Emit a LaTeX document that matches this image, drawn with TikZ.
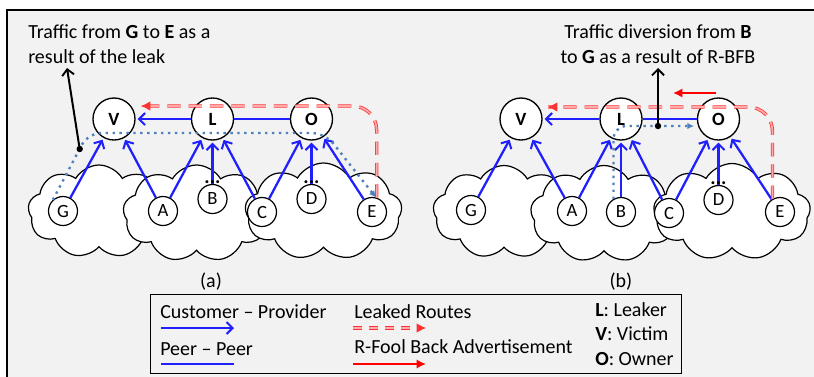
\documentclass[tikz,border=0pt]{standalone}
\usepackage{fontspec}
\setmainfont{Carlito}
\usetikzlibrary{arrows.meta,shapes.symbols,calc}
\definecolor{bgc}{RGB}{242,242,242}
\definecolor{edgeblue}{RGB}{32,32,255}
\definecolor{dotblue}{RGB}{79,129,189}
\definecolor{leakred}{RGB}{255,50,50}
\definecolor{leakpink}{RGB}{255,170,170}
\begin{document}
\begin{tikzpicture}[x=0.75pt,y=-0.75pt,
  font=\fontsize{15}{18.75}\selectfont,
  bignode/.style={circle, draw, line width=1pt, fill=white, minimum size=31.5pt, inner sep=0pt, font=\fontsize{14}{14}\selectfont\bfseries},
  smallnode/.style={circle, draw, line width=0.9pt, fill=white, minimum size=21.75pt, inner sep=0pt, font=\fontsize{14}{14}\selectfont},
  cloudshape/.style={cloud, cloud puffs=9, cloud puff arc=120, cloud ignores aspect, draw, line width=0.9pt, fill=white, inner sep=0pt},
  cp/.style={draw=edgeblue, line width=1.7pt, -{Straight Barb[length=4.5pt,width=9pt,line width=1.5pt]}, shorten >=1.5pt},
  pp/.style={draw=edgeblue, line width=1.7pt},
  leak/.style={draw=leakred, line width=0.6pt, double=leakpink, double distance=1.3pt, dash pattern=on 10pt off 6pt, rounded corners=18pt},
  leaktip/.style={draw=leakred, fill=leakred, line width=0.6pt, -{Latex[length=7pt,width=7pt]}},
  rfool/.style={draw=red, line width=1.5pt, -{Latex[length=7pt,width=7pt]}},
  traffic/.style={draw=dotblue, line width=1.8pt, dash pattern=on 1.8pt off 3.4pt, rounded corners=10pt},
  traffictip/.style={-{Latex[length=5pt,width=5pt]}},
  annot/.style={draw=black, line width=1.5pt, -{Straight Barb[length=4.5pt,width=9pt,line width=1.4pt]}},
  dotsmark/.style={inner sep=0pt, font=\fontsize{15}{15}\selectfont\bfseries},
  caption/.style={inner sep=0pt, anchor=base}]

\useasboundingbox (0,0) rectangle (814,376);
\clip (0,0) rectangle (814,376);
\fill[white] (0,0) rectangle (814,376);
\draw[fill=bgc, line width=1.2pt] (7,10) rectangle (840,400);

% ---------------- panel (a) ----------------
\node[cloudshape, minimum width=106.5pt, minimum height=69.75pt] (ac1) at (99,211.5) {};
\node[cloudshape, minimum width=110.25pt, minimum height=72.75pt] (ac2) at (196.5,213.5) {};
\node[cloudshape, minimum width=117.75pt, minimum height=72.75pt] (ac3) at (323.5,211.5) {};

\node[bignode] (aV) at (114,119) {V};
\node[bignode] (aL) at (212.5,119) {L};
\node[bignode] (aO) at (311.5,119) {O};
\node[smallnode] (aG) at (63,211) {G};
\node[smallnode] (aA) at (163,211) {A};
\node[smallnode] (aB) at (212.5,199) {B};
\node[smallnode] (aC) at (262,212) {C};
\node[smallnode] (aD) at (311.5,199) {D};
\node[smallnode] (aE) at (372,212) {E};

\draw[cp] (aG) -- (aV);
\draw[cp] (aA) -- (aV);
\draw[cp] (aA) -- (aL);
\draw[cp] (aB) -- (aL);
\draw[cp] (aC) -- (aL);
\draw[cp] (aC) -- (aO);
\draw[cp] (aD) -- (aO);
\draw[cp] (aE) -- (aO);
\draw[cp] (aL) -- (aV);
\draw[pp] (aL) -- (aO);
\node[dotsmark, anchor=base] (aBd) at (212.5,183) {...};
\node[dotsmark, anchor=base] (aDd) at (311.5,183) {...};

\coordinate (aRt) at (141,106);
\draw[leak] (aE.72) |- (aRt);
\draw[leaktip] ($(aRt)+(1,0)$) -- (aRt);

\coordinate (aT1) at (88,133);
\coordinate (aT2) at (325,133);
\draw[traffic, traffictip] (aG.132) -- (aT1) -- (aT2) -- (aE.75);

\node[anchor=north west, align=left, inner sep=0pt] (aTxt) at (28,24)
  {Traffic from \textbf{G} to \textbf{E} as a\\result of the leak};
\coordinate (aDot) at (79.7,149);
\coordinate (aTip) at (67,68);
\fill (aDot) circle[radius=2.4pt];
\draw[annot] (aDot) -- (aTip);

\node[caption] (lblA) at (211,287) {(a)};

% ---------------- panel (b) ----------------
\node[cloudshape, minimum width=106.5pt, minimum height=69.75pt] (bc1) at (504,212) {};
\node[cloudshape, minimum width=110.25pt, minimum height=72.75pt] (bc2) at (604,214) {};
\node[cloudshape, minimum width=117.75pt, minimum height=72.75pt] (bc3) at (732,212) {};

\node[bignode] (bV) at (521,119) {V};
\node[bignode] (bL) at (621,119) {L};
\node[bignode] (bO) at (718.5,119) {O};
\node[smallnode] (bG) at (471,210) {G};
\node[smallnode] (bA) at (572,211) {A};
\node[smallnode] (bB) at (621,212) {B};
\node[smallnode] (bC) at (669,213) {C};
\node[smallnode] (bD) at (718.5,200) {D};
\node[smallnode] (bE) at (780,212) {E};

\draw[cp] (bG) -- (bV);
\draw[cp] (bA) -- (bV);
\draw[cp] (bA) -- (bL);
\draw[cp] (bB) -- (bL);
\draw[cp] (bC) -- (bL);
\draw[cp] (bC) -- (bO);
\draw[cp] (bD) -- (bO);
\draw[cp] (bE) -- (bO);
\draw[cp] (bL) -- (bV);
\draw[pp] (bL) -- (bO);
\node[dotsmark, anchor=base] (bDd) at (718.5,184) {...};

\coordinate (bRt) at (548,107);
\draw[leak] (bE.120) |- (bRt);
\draw[leaktip] ($(bRt)+(1,0)$) -- (bRt);

\coordinate (bR1) at (716,93);
\coordinate (bR2) at (673,93);
\draw[rfool] (bR1) -- (bR2);

\coordinate (bTrTip) at (694,126);
\draw[traffic, traffictip] (bB.120) |- (bTrTip);

\node[anchor=north, align=center, inner sep=0pt] (bTxt) at (658,24)
  {Traffic diversion from \textbf{B}\\to \textbf{G} as a result of R-BFB};
\coordinate (bDot) at (658,126);
\coordinate (bTip) at (658,68);
\fill (bDot) circle[radius=2.4pt];
\draw[annot] (bDot) -- (bTip);

\node[caption] (lblB) at (621,287) {(b)};

% ---------------- legend ----------------
\node[draw, line width=1.1pt, anchor=north west, minimum width=398.25pt, minimum height=59.25pt, inner sep=0pt] (legend) at (150,294) {};
\node[anchor=base west, inner sep=0pt] (lg1) at (160,318) {Customer -- Provider};
\coordinate (lg1a) at (161,328); \coordinate (lg1b) at (234,328);
\draw[cp, shorten >=0pt] (lg1a) -- (lg1b);
\node[anchor=base west, inner sep=0pt] (lg2) at (160,355) {Peer -- Peer};
\coordinate (lg2a) at (161,364); \coordinate (lg2b) at (234,364);
\draw[pp] (lg2a) -- (lg2b);
\node[anchor=base west, inner sep=0pt] (lg3) at (354,318) {Leaked Routes};
\coordinate (lg3a) at (353,328); \coordinate (lg3b) at (426,328);
\draw[leak, dash pattern=on 7pt off 5pt] (lg3a) -- ($(lg3b)+(-8,0)$);
\draw[leaktip] ($(lg3b)+(-7,0)$) -- (lg3b);
\node[anchor=base west, inner sep=0pt] (lg4) at (354,353) {R-Fool Back Advertisement};
\coordinate (lg4a) at (353,364); \coordinate (lg4b) at (426,364);
\draw[rfool] (lg4a) -- (lg4b);
\node[anchor=base west, inner sep=0pt] (lg5) at (595,316) {\textbf{L}: Leaker};
\node[anchor=base west, inner sep=0pt] (lg6) at (595,340) {\textbf{V}: Victim};
\node[anchor=base west, inner sep=0pt] (lg7) at (595,365) {\textbf{O}: Owner};
\end{tikzpicture}
\end{document}
